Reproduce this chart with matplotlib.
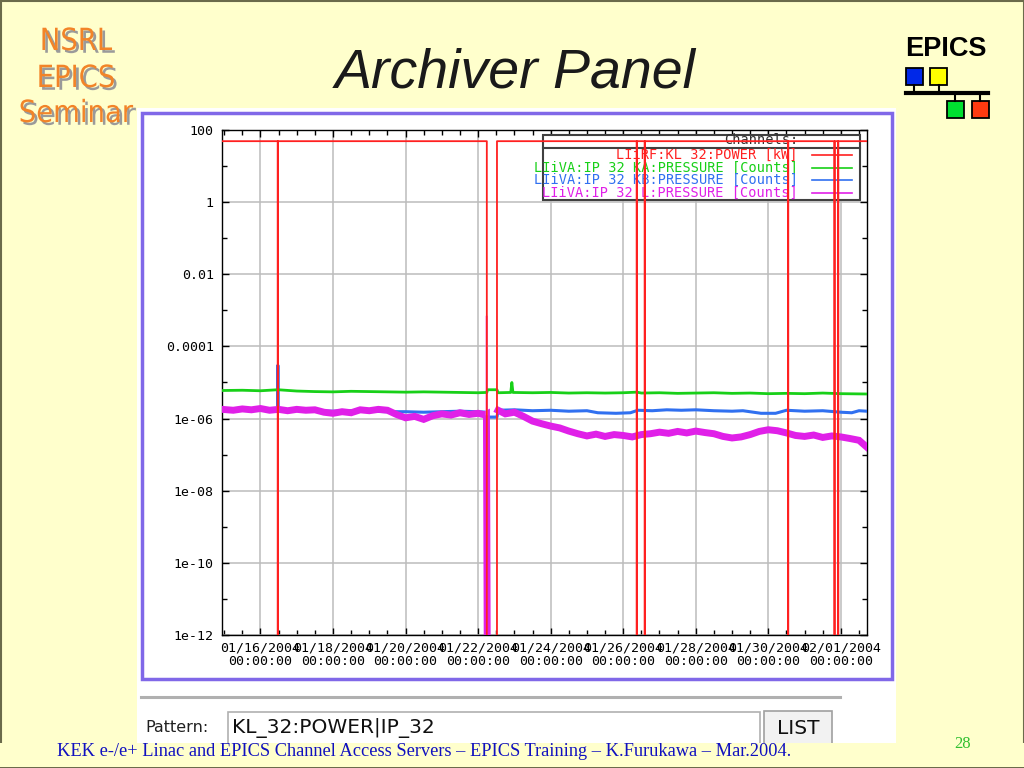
import numpy as np
import matplotlib
matplotlib.use("Agg")
import matplotlib.pyplot as plt
from matplotlib.patches import Rectangle
from matplotlib.lines import Line2D
from matplotlib.ticker import NullFormatter
from matplotlib import font_manager
import matplotlib.patheffects as pe

# ---------------- data (days since 01/16/2004 00:00) ----------------
red_days = [-1.06, 0.475, 0.48, 0.485, 6.24, 6.245, 6.515, 6.52, 10.37, 10.375, 10.38,
            10.59, 10.595, 10.60, 14.54, 14.545, 14.55, 15.82, 15.825, 15.83,
            15.92, 15.925, 15.93, 16.72]
red_kw = [49, 49, 0, 49, 49, 0, 0, 49, 49, 0, 49,
          49, 0, 49, 49, 0, 49, 49, 0, 49,
          49, 0, 49, 49]

green_days = [-1.06, -0.5, 0.0, 0.48, 1.0, 1.5, 2.0, 2.5, 3.0, 3.5, 4.0, 4.5, 5.0, 5.5, 6.0,
              6.24, 6.26, 6.52, 6.55, 6.9, 6.93, 6.96, 7.5, 8.0, 8.5, 9.0, 9.5, 10.0, 10.38,
              10.5, 11.0, 11.5, 12.0, 12.5, 13.0, 13.5, 14.0, 14.5, 15.0, 15.5, 16.0, 16.72]
green_counts = [6.0e-6, 6.1e-6, 5.9e-6, 6.3e-6, 5.8e-6, 5.6e-6, 5.5e-6, 5.7e-6, 5.6e-6, 5.5e-6,
                5.4e-6, 5.5e-6, 5.4e-6, 5.3e-6, 5.2e-6,
                5.3e-6, 6.3e-6, 6.3e-6, 5.2e-6, 5.3e-6, 1.0e-5, 5.3e-6, 5.2e-6, 5.3e-6, 5.1e-6,
                5.2e-6, 5.1e-6, 5.2e-6, 5.4e-6,
                5.1e-6, 5.2e-6, 5.0e-6, 5.1e-6, 5.2e-6, 5.0e-6, 5.1e-6, 4.9e-6, 5.0e-6, 4.9e-6,
                5.1e-6, 4.9e-6, 4.8e-6]

blue_days = [-1.06, -0.5, 0.0, 0.47, 0.48, 0.49, 1.0, 1.5, 2.0, 2.5, 3.0, 3.5, 4.0, 4.5, 5.0,
             5.5, 6.0, 6.24, 6.26, 6.52, 6.55, 7.0, 7.5, 8.0, 8.5, 9.0, 9.3, 9.8, 10.2, 10.4,
             10.8, 11.2, 11.6, 12.0, 12.5, 13.0, 13.3, 13.8, 14.2, 14.5, 15.0, 15.5, 16.0,
             16.3, 16.5, 16.72]
blue_counts = [1.7e-6, 1.75e-6, 1.7e-6, 1.7e-6, 3.0e-5, 1.7e-6, 1.7e-6, 1.65e-6, 1.6e-6, 1.65e-6,
               1.6e-6, 1.55e-6, 1.55e-6, 1.5e-6, 1.55e-6,
               1.6e-6, 1.55e-6, 1.5e-6, 1.1e-6, 1.1e-6, 1.7e-6, 1.75e-6, 1.65e-6, 1.7e-6, 1.6e-6,
               1.65e-6, 1.45e-6, 1.4e-6, 1.45e-6, 1.7e-6,
               1.65e-6, 1.75e-6, 1.7e-6, 1.75e-6, 1.65e-6, 1.6e-6, 1.65e-6, 1.4e-6, 1.4e-6,
               1.7e-6, 1.6e-6, 1.65e-6, 1.5e-6,
               1.45e-6, 1.65e-6, 1.6e-6]

magenta_days = [-1.06, -0.75, -0.5, -0.25, 0.0, 0.25, 0.5, 0.75, 1.0, 1.25, 1.5, 1.75, 2.0,
                2.25, 2.5, 2.75, 3.0, 3.25, 3.5, 3.75, 4.0, 4.25, 4.5, 4.75, 5.0, 5.25, 5.5,
                5.75, 6.0, 6.2, 6.23, 6.25, 6.4, 6.55, 6.75, 7.0, 7.25, 7.5, 7.75,
                8.0, 8.25, 8.5, 8.75, 9.0, 9.25, 9.5, 9.75, 10.0, 10.25, 10.5, 10.75, 11.0,
                11.25, 11.5, 11.75, 12.0, 12.25, 12.5, 12.75, 13.0, 13.25, 13.5, 13.75, 14.0,
                14.25, 14.5, 14.75, 15.0, 15.25, 15.5, 15.75, 16.0, 16.25, 16.5, 16.72]
magenta_counts = [1.80e-6, 1.70e-6, 1.85e-6, 1.75e-6, 1.90e-6, 1.70e-6, 1.80e-6, 1.65e-6,
                  1.80e-6, 1.70e-6, 1.75e-6, 1.50e-6, 1.40e-6, 1.55e-6, 1.45e-6, 1.75e-6,
                  1.65e-6, 1.80e-6, 1.70e-6, 1.30e-6, 1.05e-6, 1.15e-6, 0.95e-6, 1.20e-6,
                  1.35e-6, 1.25e-6, 1.45e-6, 1.30e-6, 1.40e-6, 1.25e-6, 1.3e-6,
                  1.2e-12, np.nan, 1.70e-6, 1.35e-6, 1.50e-6, 1.15e-6, 0.85e-6, 0.72e-6,
                  0.62e-6, 0.55e-6, 0.45e-6, 0.38e-6, 0.33e-6, 0.37e-6, 0.32e-6, 0.36e-6,
                  0.34e-6, 0.31e-6, 0.36e-6, 0.38e-6, 0.42e-6, 0.39e-6, 0.44e-6, 0.40e-6,
                  0.45e-6, 0.41e-6, 0.38e-6, 0.32e-6, 0.29e-6, 0.31e-6, 0.36e-6, 0.44e-6,
                  0.49e-6, 0.46e-6, 0.40e-6, 0.34e-6, 0.32e-6, 0.35e-6, 0.30e-6, 0.33e-6,
                  0.31e-6, 0.28e-6, 0.25e-6, 0.16e-6]
magenta_spike_days = [6.23, 6.235, 6.24]
magenta_spike_counts = [1.3e-6, 7.0e-4, 1.3e-6]

x_tick_days = [0, 2, 4, 6, 8, 10, 12, 14, 16]
x_tick_labels = ["01/16/2004\n00:00:00", "01/18/2004\n00:00:00", "01/20/2004\n00:00:00",
                 "01/22/2004\n00:00:00", "01/24/2004\n00:00:00", "01/26/2004\n00:00:00",
                 "01/28/2004\n00:00:00", "01/30/2004\n00:00:00", "02/01/2004\n00:00:00"]
y_ticks = [1e-12, 1e-10, 1e-8, 1e-6, 1e-4, 1e-2, 1, 100]
y_tick_labels = ["1e-12", "1e-10", "1e-08", "1e-06", "0.0001", "0.01", "1", "100"]
y_minor = [1e-11, 1e-9, 1e-7, 1e-5, 1e-3, 1e-1, 10]

channel_names = ["LIiRF:KL 32:POWER [kW]", "LIiVA:IP 32 KA:PRESSURE [Counts]",
                 "LIiVA:IP 32 KB:PRESSURE [Counts]", "LIiVA:IP 32 L:PRESSURE [Counts]"]
channel_colors = ["#ff2020", "#18d018", "#3070f0", "#e020e8"]

W, H = 1024, 768
def fx(x): return x / W
def fy(y): return 1 - y / H

fig = plt.figure(figsize=(10.24, 7.68), dpi=100, facecolor="#ffffcc")

def frect(x0, y0, x1, y1, **kw):
    r = Rectangle((fx(x0), fy(y1)), (x1 - x0) / W, (y1 - y0) / H,
                  transform=fig.transFigure, **kw)
    fig.add_artist(r)
    return r

def fline(xs, ys, **kw):
    fig.add_artist(Line2D([fx(v) for v in xs], [fy(v) for v in ys],
                          transform=fig.transFigure, **kw))

# slide border
frect(0.5, 0.5, 1023.5, 767.5, facecolor="none", edgecolor="#6b6b4b", lw=1.5, zorder=-2)

# screenshot panel
frect(137, 108, 896, 743, facecolor="white", edgecolor="none", zorder=-1)
frect(142, 113, 892, 679, facecolor="none", edgecolor="#8068e8", lw=2.5, zorder=-0.5)

# ---------------- axes ----------------
ax = fig.add_axes([fx(222), fy(635), (867 - 222) / W, (635 - 130) / H])
ax.set_facecolor("white")
ax.set_yscale("log", nonpositive="clip")
ax.set_xlim(-1.06, 16.72)
ax.set_ylim(1e-12, 100)
ax.set_axisbelow(True)

ax.plot(blue_days, blue_counts, color=channel_colors[2], lw=2.2, zorder=3.0)
ax.plot(magenta_days, magenta_counts, color=channel_colors[3], lw=5, zorder=3.1,
        solid_joinstyle="miter")
ax.plot(magenta_spike_days, magenta_spike_counts, color="#f070f0", lw=1.2, zorder=3.1)
ax.plot(green_days, green_counts, color=channel_colors[1], lw=2.0, zorder=3.2)
ax.plot(red_days, red_kw, color=channel_colors[0], lw=1.3, zorder=3.3)

ax.set_xticks(x_tick_days, x_tick_labels)
ax.set_xticks([d + 0.5 * k for d in [-2] + x_tick_days for k in range(4)
               if -1.06 <= d + 0.5 * k <= 16.72], minor=True)
ax.set_yticks(y_ticks, y_tick_labels)
ax.set_yticks(y_minor, minor=True)
ax.yaxis.set_minor_formatter(NullFormatter())
ax.xaxis.set_minor_formatter(NullFormatter())
ax.grid(True, which="major", color="#bcbcbc", lw=1.1)
ax.tick_params(which="both", direction="in", top=True, right=True, colors="black")
ax.tick_params(which="major", length=5, width=1)
ax.tick_params(which="minor", length=3.5, width=1)
ax.tick_params(axis="x", which="major", pad=5, labelsize=9.5)
ax.tick_params(axis="y", which="major", pad=6, labelsize=9.5)
for lbl in ax.get_xticklabels() + ax.get_yticklabels():
    lbl.set_fontfamily("DejaVu Sans Mono")
for lbl in ax.get_xticklabels():
    lbl.set_linespacing(1.0)
for s in ax.spines.values():
    s.set_color("black")
    s.set_linewidth(1.0)

# legend (drawn manually, under the data lines)
lx0, lx1, ly0, ly1 = 0.4975, 0.989, 0.861, 0.990
ax.add_patch(Rectangle((lx0, ly0), lx1 - lx0, ly1 - ly0, transform=ax.transAxes,
                       facecolor="white", edgecolor="#404040", lw=1.5, zorder=1.5))
ax.add_line(Line2D([lx0, lx1], [0.9644, 0.9644], transform=ax.transAxes,
                   color="#404040", lw=1.5, zorder=1.6))
ax.text(0.893, 0.980, "Channels:", transform=ax.transAxes, ha="right", va="center",
        fontsize=9.8, family="DejaVu Sans Mono", color="#303030", zorder=1.7)
row_y = [0.9505, 0.9253, 0.901, 0.876]
for name, col, yy in zip(channel_names, channel_colors, row_y):
    ax.text(0.893, yy, name, transform=ax.transAxes, ha="right", va="center",
            fontsize=9.8, family="DejaVu Sans Mono", color=col, zorder=1.7)
    ax.add_line(Line2D([0.915, 0.977], [yy, yy], transform=ax.transAxes,
                       color=col, lw=1.2, zorder=1.7))

# ---------------- slide decorations ----------------
fig.text(fx(515), fy(87), "Archiver Panel", ha="center", va="baseline",
         fontsize=40, style="italic", family="Liberation Sans", color="#1a1a1a")

# narrow sans for the seminar label, if one is installed
narrow = None
for f in font_manager.fontManager.ttflist:
    nm = f.name
    is_narrow = ("Narrow" in nm or "Condensed" in nm or
                 str(f.stretch) in ("condensed", "semi-condensed", "extra-condensed", "75", "87"))
    if is_narrow and f.style == "normal" and f.weight in (400, "normal", "regular"):
        if nm.startswith("Liberation Sans"):
            narrow = f
            break
        if narrow is None:
            narrow = f
if narrow is not None:
    nprop = dict(fontproperties=font_manager.FontProperties(fname=narrow.fname, size=22))
else:
    nprop = dict(family="Liberation Sans", fontsize=20)
shadow = [pe.withSimplePatchShadow(offset=(2, -2), shadow_rgbFace="#9a9a9a", alpha=1.0)]
for txt, yb in [("NSRL", 50), ("EPICS", 87), ("Seminar", 122)]:
    fig.text(fx(76), fy(yb), txt, ha="center", va="baseline", color="#f28428",
             path_effects=shadow, **nprop)

# EPICS logo
fig.text(fx(905), fy(56), "EPICS", ha="left", va="baseline", fontsize=19.5,
         weight="bold", family="Liberation Sans", color="black")
fline([906, 988], [92.5, 92.5], color="black", lw=3)
fline([914, 914], [85, 92], color="black", lw=1.5)
fline([939, 939], [85, 92], color="black", lw=1.5)
fline([955, 955], [93, 101], color="black", lw=1.5)
fline([980, 980], [93, 101], color="black", lw=1.5)
frect(906, 68, 923, 85, facecolor="#0028e8", edgecolor="black", lw=1.3)
frect(930, 68, 947, 85, facecolor="#ffff00", edgecolor="black", lw=1.3)
frect(947, 101, 964, 118, facecolor="#00e030", edgecolor="black", lw=1.3)
frect(972, 101, 989, 118, facecolor="#ff3a10", edgecolor="black", lw=1.3)

# bottom UI of the screenshot
fline([141, 840], [697, 697], color="#b0b0b0", lw=2.2)
fig.text(fx(145), fy(727), "Pattern:", ha="left", va="center", fontsize=11.5,
         family="DejaVu Sans", color="#202020")
frect(228, 712, 760, 745, facecolor="white", edgecolor="#b0b0b0", lw=1.2)
fig.text(fx(232), fy(728), "KL_32:POWER|IP_32", ha="left", va="center", fontsize=14.5,
         family="DejaVu Sans", color="#101010")
frect(764, 711, 832, 745, facecolor="#f2f2f2", edgecolor="#a0a0a0", lw=1.2)
fig.text(fx(798), fy(728), "LIST", ha="center", va="center", fontsize=14.5,
         family="DejaVu Sans", color="#101010")

# footer band
frect(0, 743, 1024, 767, facecolor="#ffffcc", edgecolor="none", zorder=5)
fig.text(fx(57), fy(751), "KEK e-/e+ Linac and EPICS Channel Access Servers \u2013 EPICS Training \u2013 K.Furukawa \u2013 Mar.2004.",
         ha="left", va="center", fontsize=13.2, family="Liberation Serif", color="#1010c0",
         zorder=6)
fig.text(fx(963), fy(744), "28", ha="center", va="center", fontsize=12,
         family="Liberation Serif", color="#30c030", zorder=6)

fig.savefig("out.png", dpi=100, facecolor=fig.get_facecolor())
